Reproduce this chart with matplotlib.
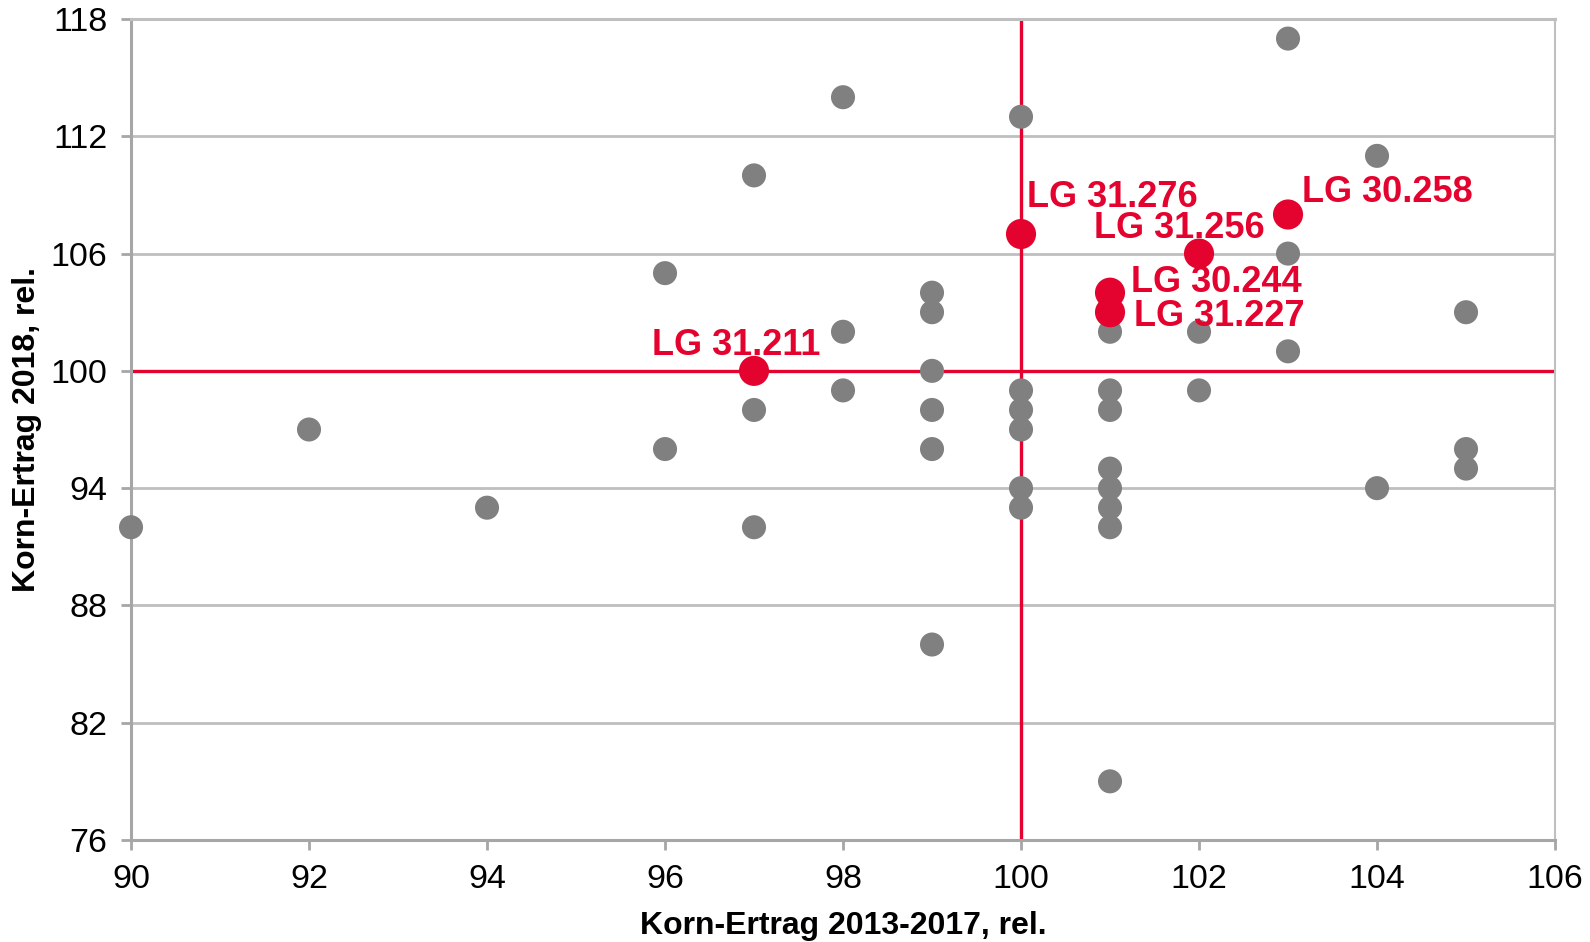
import matplotlib.pyplot as plt
import numpy as np

plt.rcParams['font.family'] = ['Liberation Sans', 'DejaVu Sans']

# grey points: all varieties
grey_x = [90, 92, 94, 96, 96, 97, 97, 97, 98, 98, 98,
          99, 99, 99, 99, 99, 99,
          100, 100, 100, 100, 100, 100,
          101, 101, 101, 101, 101, 101, 101, 101,
          102, 102, 103, 103, 103, 104, 104, 105, 105, 105]
grey_y = [92, 97, 93, 105, 96, 110, 98, 92, 114, 102, 99,
          104, 103, 100, 98, 96, 86,
          113, 99, 98, 97, 94, 93,
          102, 99, 98, 95, 94, 93, 92, 79,
          102, 99, 117, 106, 101, 111, 94, 103, 96, 95]

# highlighted LG varieties
lg_names = ["LG 31.211", "LG 31.276", "LG 31.256", "LG 30.258", "LG 30.244", "LG 31.227"]
lg_x = [97, 100, 102, 103, 101, 101]
lg_y = [100, 107, 106, 108, 104, 103]

x_ticks = [90, 92, 94, 96, 98, 100, 102, 104, 106]
y_ticks = [76, 82, 88, 94, 100, 106, 112, 118]

RED = '#E4032E'
GREY = '#808080'

# label placement (offset in points, horizontal alignment)
label_pos = [((-13, 18), 'center'), ((4, 26), 'left'), ((47, 18), 'right'),
             ((10, 16), 'left'), ((15, 7), 'left'), ((17, -3), 'left')]

fig = plt.figure(figsize=(15.9, 9.42), dpi=100)
ax = fig.add_axes([0.0824, 0.1083, 0.8956, 0.8715])

ax.set_xlim(90, 106)
ax.set_ylim(76, 118)
ax.set_xticks(x_ticks)
ax.set_yticks(y_ticks)

ax.grid(axis='y', color='#BFBFBF', linewidth=2)
ax.set_axisbelow(True)
for side in ['left', 'bottom', 'top', 'right']:
    ax.spines[side].set_color('#A6A6A6')
    ax.spines[side].set_linewidth(2.2)
ax.spines['top'].set_color('#BFBFBF')
ax.spines['right'].set_color('#BFBFBF')
ax.spines['right'].set_linewidth(1.5)
ax.tick_params(axis='both', direction='out', length=7, width=2, color='#A6A6A6',
               labelsize=24.5, labelcolor='black')
ax.tick_params(axis='x', pad=10)
ax.tick_params(axis='y', pad=10)

ax.axhline(100, color=RED, linewidth=2.4, zorder=2)
ax.axvline(100, color=RED, linewidth=2.4, zorder=2)

ax.scatter(grey_x, grey_y, s=300, color=GREY, edgecolors='none', zorder=3, clip_on=False)
ax.scatter(lg_x, lg_y, s=470, color=RED, edgecolors='none', zorder=4, clip_on=False)

for name, x, y, (off, ha) in zip(lg_names, lg_x, lg_y, label_pos):
    ax.annotate(name, (x, y), xytext=off, textcoords='offset points',
                ha=ha, va='center', color=RED, fontsize=26, fontweight='bold', zorder=5)

ax.set_xlabel('Korn-Ertrag 2013-2017, rel.', fontsize=23, fontweight='bold', labelpad=12)
ax.set_ylabel('Korn-Ertrag 2018, rel.', fontsize=23, fontweight='bold', labelpad=6)

plt.savefig('out.png', dpi=100)
